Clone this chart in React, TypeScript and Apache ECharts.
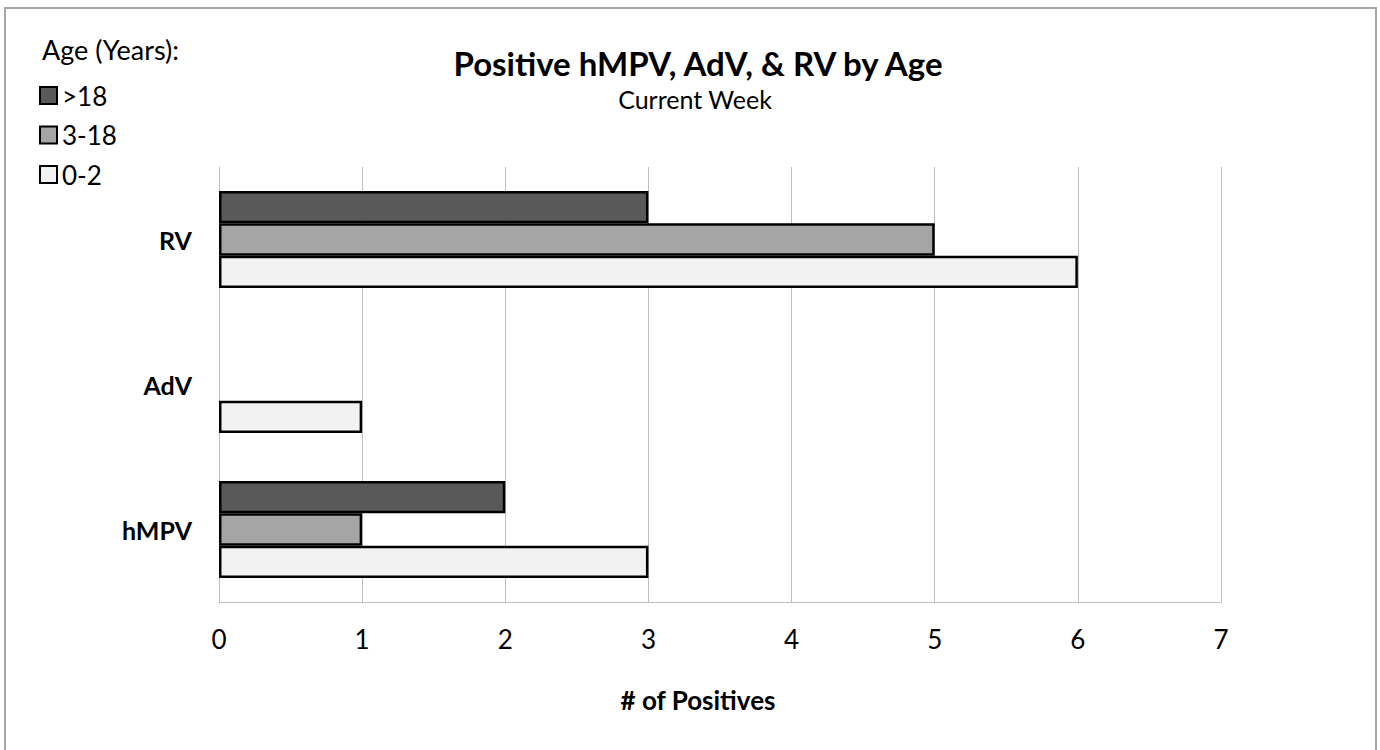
import React, { useEffect, useRef } from "react";
import * as echarts from "echarts";

const categories = ["hMPV", "AdV", "RV"];
const seriesNames = [">18", "3-18", "0-2"];
const valuesOver18 = [2, 0, 3];
const values3to18 = [1, 0, 5];
const values0to2 = [3, 1, 6];
const seriesValues = [valuesOver18, values3to18, values0to2];
const seriesColors = ["#595959", "#a5a5a5", "#f2f2f2"];
const legendOrder = [">18", "3-18", "0-2"];
const xMin = 0;
const xMax = 7;
const xInterval = 1;

const titleText = "Positive hMPV, AdV, & RV by Age";
const subtitleText = "Current Week";
const legendTitle = "Age (Years):";
const xAxisTitle = "# of Positives";

const FONT = "Lato";

export default function App() {
  const ref = useRef<HTMLDivElement>(null);

  useEffect(() => {
    if (!ref.current) return;
    const chart = echarts.init(ref.current, undefined, { renderer: "svg" });
    const option = {
      animation: false,
      backgroundColor: "#ffffff",
      textStyle: { fontFamily: FONT, color: "#000" },
      graphic: [
        {
          type: "rect",
          silent: true,
          z: -10,
          shape: { x: 5, y: 8, width: 1371, height: 800 },
          style: { fill: "none", stroke: "#a6a6a6", lineWidth: 2 },
        },
        {
          type: "text",
          x: 698,
          y: 63,
          style: {
            text: titleText,
            fontFamily: FONT,
            fontSize: 33,
            fontWeight: "bold",
            fill: "#000",
            align: "center",
            verticalAlign: "middle",
          },
        },
        {
          type: "text",
          x: 695,
          y: 99,
          style: {
            text: subtitleText,
            fontFamily: FONT,
            fontSize: 25,
            fill: "#000",
            align: "center",
            verticalAlign: "middle",
          },
        },
        {
          type: "text",
          x: 42,
          y: 49,
          style: {
            text: legendTitle,
            fontFamily: FONT,
            fontSize: 27,
            fill: "#000",
            align: "left",
            verticalAlign: "middle",
          },
        },
        {
          type: "text",
          x: 698,
          y: 700,
          style: {
            text: xAxisTitle,
            fontFamily: FONT,
            fontSize: 26,
            fontWeight: "bold",
            fill: "#000",
            align: "center",
            verticalAlign: "middle",
          },
        },
      ],
      legend: {
        data: legendOrder,
        orient: "vertical",
        left: 39,
        top: 82,
        padding: 0,
        itemWidth: 17,
        itemHeight: 17,
        itemGap: 12.5,
        icon: "rect",
        itemStyle: { borderColor: "#000", borderWidth: 2 },
        textStyle: { fontFamily: FONT, fontSize: 26, color: "#000", lineHeight: 27 },
      },
      grid: { left: 219, right: 159, top: 167, bottom: 148, containLabel: false },
      xAxis: {
        type: "value",
        min: xMin,
        max: xMax,
        interval: xInterval,
        axisLine: { show: true, lineStyle: { color: "#bfbfbf", width: 1 } },
        axisTick: { show: false },
        splitLine: { show: true, lineStyle: { color: "#bfbfbf", width: 1 } },
        axisLabel: { fontFamily: FONT, fontSize: 26, color: "#000", margin: 24 },
      },
      yAxis: {
        type: "category",
        data: categories,
        axisLine: { show: true, lineStyle: { color: "#bfbfbf", width: 1 } },
        axisTick: { show: false },
        axisLabel: {
          fontFamily: FONT,
          fontSize: 25,
          fontWeight: "bold",
          color: "#000",
          margin: 27,
        },
      },
      series: seriesNames.map((name, i) => ({
        name,
        type: "bar",
        barGap: "0%",
        barCategoryGap: "33%",
        itemStyle: { color: seriesColors[i], borderColor: "#000", borderWidth: 2.5 },
        data: seriesValues[i].map((v) =>
          v === 0 ? { value: v, itemStyle: { borderWidth: 0 } } : v
        ),
      })),
    };
    chart.setOption(option as any);
    return () => chart.dispose();
  }, []);

  return (
    <div
      ref={ref}
      style={{ position: "fixed", left: 0, top: 0, width: 1380, height: 750, background: "#fff" }}
    />
  );
}
